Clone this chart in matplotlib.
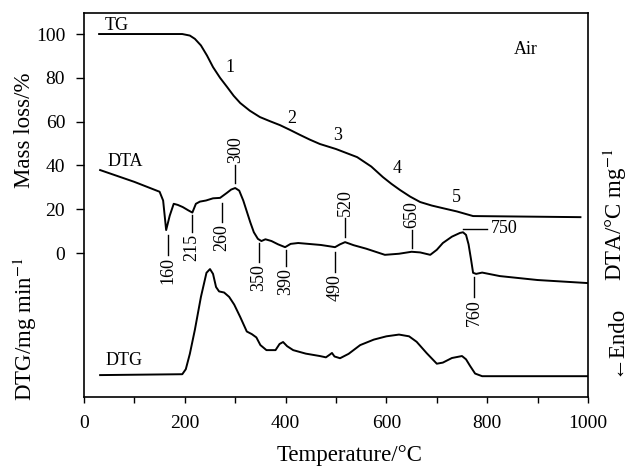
import matplotlib
matplotlib.use("Agg")
import matplotlib.pyplot as plt

plt.rcParams['font.family'] = ['Liberation Serif', 'DejaVu Serif']
plt.rcParams['mathtext.fontset'] = 'stix'

# ---- data (all curves share the left-axis coordinate system) ----
tg_T = [30, 195, 210, 220, 232, 244, 256, 270, 284, 297, 310, 329, 349, 369, 389, 409, 429, 448, 468, 500, 542, 570, 593, 610, 627, 647, 667, 690, 712, 740, 772, 985]
tg_v = [100, 100, 99.3, 97.8, 94.8, 90.2, 84.9, 80.0, 75.8, 71.8, 68.5, 65.0, 62.1, 60.2, 58.4, 56.2, 53.9, 51.8, 49.8, 47.5, 43.8, 39.5, 34.7, 31.6, 28.8, 25.8, 23.3, 21.7, 20.5, 19.0, 16.9, 16.4]

dta_T = [32, 100, 150, 157, 163, 170, 178, 186, 196, 207, 215, 222, 230, 242, 256, 270, 283, 292, 300, 308,
         316, 323, 330, 337, 345, 352, 360, 372, 385, 399, 410, 425, 445, 470, 490, 498, 508, 518, 535, 560,
         597, 625, 650, 667, 687, 700, 712, 730, 746, 752, 758, 763, 768, 772, 778, 790, 825, 900, 1000]
dta_v = [37.9, 32.5, 28, 24, 10.5, 17, 22.5, 22, 21, 19.5, 18.5, 22.5, 23.5, 24, 25, 25.2, 27.4, 29, 29.7, 28.5,
         24, 19, 14, 9.5, 6.5, 5.5, 6.3, 5.5, 4, 2.7, 4.2, 4.6, 4.2, 3.7, 3, 2.7, 4, 5, 3.6, 2,
         -0.8, -0.3, 0.6, 0.3, -0.8, 1.5, 4.6, 7.5, 9.2, 9.5, 8.3, 4, -3, -9, -9.5, -8.9, -10.5, -12.3, -13.7]

dtg_T = [32, 195, 202, 210, 220, 232, 243, 250, 256, 262, 268, 278, 288, 298, 310, 323, 333, 342, 350, 362,
         380, 388, 395, 403, 415, 440, 468, 480, 488, 492, 497, 508, 525, 548, 575, 600, 625, 645, 660, 680,
         700, 712, 730, 750, 758, 766, 776, 790, 1000]
dtg_v = [-55.7, -55.3, -53, -46, -35, -20, -9, -7.3, -9.5, -15.5, -17.5, -18, -20, -23.5, -29.2, -35.8, -37, -38.5, -42, -44.3,
         -44.3, -41.5, -40.6, -42.5, -44.3, -45.9, -47, -47.6, -46.3, -45.6, -47.2, -48, -46, -42, -39.5, -38, -37.2, -38, -40.5, -45.7,
         -50.5, -50, -47.9, -47, -48.5, -51.5, -55, -56.2, -56.2]

# DTA peak annotations: label, x, line top, line bottom, side
ann_labels = ['160', '215', '260', '300', '350', '390', '490', '520', '650', '760']
ann_x      = [167, 214, 274, 300, 347, 400, 498, 518, 650, 774]
ann_top    = [8.2, 17.4, 22.8, 40.2, 4.6, 1.4, 0.5, 16.0, 10.5, -11.0]
ann_bot    = [-0.9, 9.6, 14.2, 32.0, -4.1, -5.9, -8.7, 7.3, 2.3, -20.0]
ann_side   = ['below', 'below', 'below', 'above', 'below', 'below', 'below', 'above', 'above', 'below']

stage_labels = ['1', '2', '3', '4', '5']
stage_x = [290, 413, 504, 621, 738]
stage_y = [84.5, 61.6, 53.9, 38.8, 25.6]

x_ticks = [0, 200, 400, 600, 800, 1000]
y_ticks = [0, 20, 40, 60, 80, 100]

fig = plt.figure(figsize=(6.29, 4.68), dpi=100)
ax = fig.add_axes([84/629, 71/468, 504/629, 384/468])

lw = 1.4
ax.plot(tg_T, tg_v, color='black', lw=lw)
ax.plot(dta_T, dta_v, color='black', lw=lw)
ax.plot(dtg_T, dtg_v, color='black', lw=lw)

ax.set_xlim(0, 1000)
ax.set_ylim(-65.7, 109.6)
ax.set_xticks(x_ticks)
ax.set_xticks([100, 300, 500, 700, 900], minor=True)
ax.set_yticks(y_ticks)
ax.tick_params(axis='x', which='both', direction='out', length=4, width=1.0, labelsize=14, pad=9)
ax.tick_params(axis='y', which='both', direction='out', length=5.5, width=1.0, labelsize=14, pad=8)
for s in ax.spines.values():
    s.set_linewidth(1.2)

fig.text(350/629, 1 - 455/468, 'Temperature/°C', ha='center', va='center', fontsize=16.5)

fs = 13
for lab, x, t, b, side in zip(ann_labels, ann_x, ann_top, ann_bot, ann_side):
    ax.plot([x, x], [t, b], color='black', lw=1.0)
    if side == 'below':
        ax.text(x, b - 1.0, lab, rotation=90, ha='center', va='top', fontsize=fs)
    else:
        ax.text(x, t + 1.0, lab, rotation=90, ha='center', va='bottom', fontsize=fs)

# 750 horizontal annotation
ax.plot([752, 800], [11, 11], color='black', lw=1.0)
ax.text(808, 11, '750', ha='left', va='center', fontsize=fs)

for lab, x, y in zip(stage_labels, stage_x, stage_y):
    ax.text(x, y, lab, ha='center', va='center', fontsize=fs)

ax.text(42, 104, 'TG', ha='left', va='center', fontsize=fs)
ax.text(46, 42, 'DTA', ha='left', va='center', fontsize=fs)
ax.text(42, -48.9, 'DTG', ha='left', va='center', fontsize=fs)
ax.text(877, 93, 'Air', ha='center', va='center', fontsize=fs)

fig.text(25/629, 1 - 130/468, 'Mass loss/%', rotation=90, ha='center', va='center', fontsize=16.5)
fig.text(25/629, 1 - 329/468, 'DTG/mg min$^{-1}$', rotation=90, ha='center', va='center', fontsize=16.5)
fig.text(615/629, 1 - 215/468, 'DTA/°C mg$^{-1}$', rotation=90, ha='center', va='center', fontsize=16.5)
fig.text(615/629, 1 - 340/468, '←Endo', rotation=90, ha='center', va='center', fontsize=16.5)

fig.savefig('out.png', dpi=100)
